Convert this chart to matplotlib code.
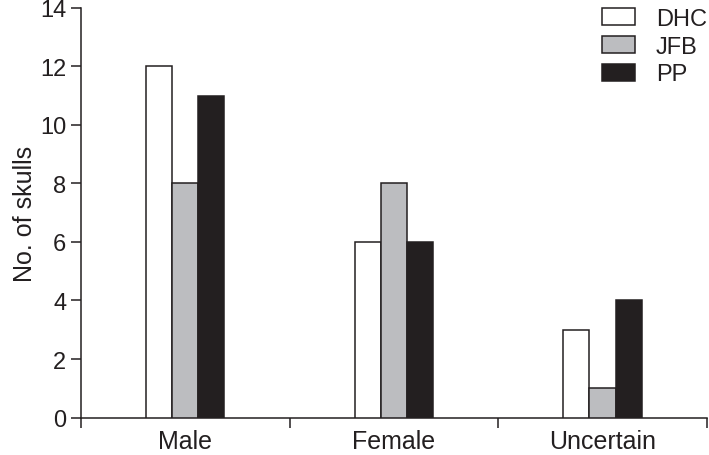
import matplotlib
matplotlib.use("Agg")
import matplotlib.pyplot as plt
import numpy as np

categories = ["Male", "Female", "Uncertain"]
series = ["DHC", "JFB", "PP"]
dhc = [12, 6, 3]
jfb = [8, 8, 1]
pp = [11, 6, 4]
y_ticks = [0, 2, 4, 6, 8, 10, 12, 14]

ink = "#231f20"
colors = ["#ffffff", "#bcbdc0", "#231f20"]

plt.rcParams['font.family'] = ['Liberation Sans', 'DejaVu Sans']
fig = plt.figure(figsize=(7.09, 4.56), dpi=100)
ax = fig.add_axes([0.114, 0.082, 0.883, 0.899])

x = np.arange(len(categories))
w = 0.125
for i, (vals, name) in enumerate(zip([dhc, jfb, pp], series)):
    ax.bar(x + (i - 1) * w, vals, width=w, color=colors[i], edgecolor=ink,
           linewidth=1.1, label=name, zorder=3)

ax.set_xlim(-0.5, 2.5)
ax.set_ylim(0, 14)
ax.set_yticks(y_ticks)
ax.set_xticks([-0.5, 0.5, 1.5, 2.5])
ax.set_xticklabels([])
ax.set_xticks(x, minor=True)
ax.set_xticklabels(categories, minor=True)
ax.tick_params(axis='x', which='minor', length=0, pad=8, labelsize=18, labelcolor=ink)
ax.tick_params(axis='x', which='major', length=7.5, width=1.1, color=ink, direction='out')
ax.tick_params(axis='y', length=7.5, width=1.1, color=ink, direction='out', labelsize=17, labelcolor=ink, pad=3)

for s in ['top', 'right']:
    ax.spines[s].set_visible(False)
for s in ['left', 'bottom']:
    ax.spines[s].set_color(ink)
    ax.spines[s].set_linewidth(1.1)

ax.set_ylabel("No. of skulls", fontsize=18, color=ink, labelpad=2)

leg = ax.legend(loc='upper right', bbox_to_anchor=(1.0, 1.0), frameon=False,
                fontsize=17, handlelength=1.4, handleheight=0.72, labelspacing=0.25,
                handletextpad=0.9, borderaxespad=0.0, borderpad=0.0)
for t in leg.get_texts():
    t.set_color(ink)

fig.savefig("out.png", dpi=100)
